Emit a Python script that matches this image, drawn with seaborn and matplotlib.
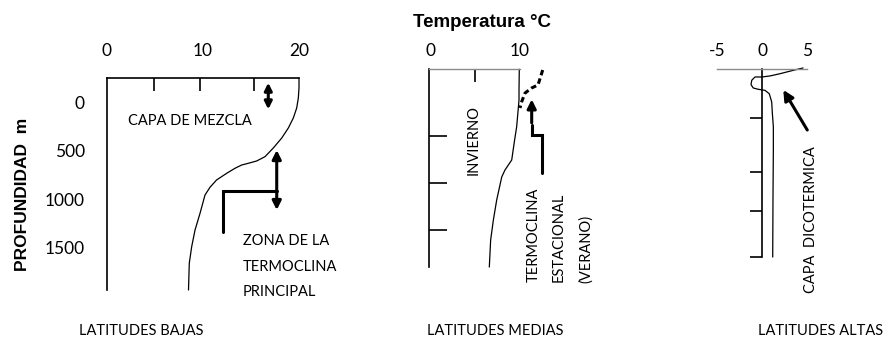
import matplotlib
matplotlib.use("Agg")
import matplotlib.pyplot as plt
import seaborn as sns

# ---------------- data ----------------
# Latitudes bajas: temperature (°C) vs depth (m)
low_T = [20.0, 20.0, 19.93, 19.76, 19.41, 18.89, 18.2, 17.32, 16.46, 15.59, 14.72, 14.03, 13.33,
         12.47, 11.41, 10.73, 10.21, 9.69, 9.17, 8.82, 8.57, 8.49]
low_d = [-260, -156, -52, 52, 156, 260, 365, 469, 559, 604, 628, 646, 680,
         732, 802, 878, 958, 1149, 1323, 1497, 1670, 1948]
# Latitudes medias: winter (solid) and summer (dashed)
mid_win_T = [9.92, 9.89, 9.89, 9.63, 9.4, 9.08, 8.33, 7.97, 7.41, 7.04, 6.74, 6.59]
mid_win_d = [-210, 11, 117, 401, 543, 755, 862, 936, 1181, 1394, 1606, 1894]
mid_sum_T = [12.52, 12.41, 12.0, 11.3, 10.56, 10.19, 10.0]
mid_sum_d = [-202, -167, -43, -11, 43, 135, 202]
# Latitudes altas
high_T = [4.56, 3.48, 2.0, 0.89, -0.03, -0.78, -1.14, -1.22, -0.97, -0.41, 0.33, 0.81, 1.08,
          1.14, 1.26, 1.26, 1.22, 1.19]
high_d = [-211, -186, -150, -126, -115, -115, -80, -33, 2, 16, 27, 63, 151,
          257, 414, 662, 1193, 1800]

low_xticklabels = [0, 10, 20]
low_yticklabels = [0, 500, 1000, 1500]
low_xmarks = [4.9, 9.7, 15.3]
low_ymarks = [500, 1000, 1500]
mid_xticklabels = [0, 10]
mid_xmarks = [5]
mid_ymarks = [500, 1000, 1500]
high_xticklabels = [-5, 0, 5]
high_xmarks = [-5, 5]
high_ymarks = [320, 900, 1310, 1800]

# annotation arrows (temperature, depth)
low_arrow1 = [(16.8, -211), (16.8, 66)]
low_arrow2 = [(17.68, 490), (17.68, 1115)]
low_bracket_T = [12.05, 12.05, 17.68]
low_bracket_d = [1341, 914, 914]
mid_arrow = [(11.3, 360), (11.3, 110)]
mid_bracket_T = [11.3, 11.3, 12.41, 12.41]
mid_bracket_d = [380, 489, 489, 894]
high_arrow = [(5.03, 449), (2.37, 23)]

# ---------------- figure ----------------
sns.set_theme(style="white")
plt.rcParams["font.family"] = ["Lato", "DejaVu Sans"]
plt.rcParams["axes.unicode_minus"] = False

W, H = 883, 339
fig = plt.figure(figsize=(W / 100, H / 100), dpi=100)
fig.patch.set_facecolor("white")


def P(px, py):
    return px / W, 1 - py / H


def make_axes(L, R, T, B, x0, sx, y0, sy):
    ax = fig.add_axes([L / W, 1 - B / H, (R - L) / W, (B - T) / H])
    ax.set_facecolor("none")
    ax.set_xlim((L - x0) / sx, (R - x0) / sx)
    ax.set_ylim((B - y0) / sy, (T - y0) / sy)
    for s in ["right", "bottom"]:
        ax.spines[s].set_visible(False)
    ax.xaxis.tick_top()
    ax.grid(False)
    return ax


LW = 0.9
TICKFONT = dict(family=["Lato", "DejaVu Sans"], size=12.5, color="black")

# ---------- panel 1 ----------
ax1 = make_axes(107, 299, 78, 290, 107, 9.6, 103, 0.096)
for s in ["top", "left"]:
    ax1.spines[s].set_color("black")
    ax1.spines[s].set_linewidth(1.2)
sns.lineplot(x=low_T, y=low_d, sort=False, estimator=None, ax=ax1, color="black", lw=LW)
ax1.set_xticks(low_xticklabels)
ax1.set_xticklabels([str(v) for v in low_xticklabels], **TICKFONT)
ax1.set_yticks(low_yticklabels)
ax1.set_yticklabels([str(v) for v in low_yticklabels], **TICKFONT)
ax1.tick_params(axis="x", which="major", length=0, pad=14)
ax1.tick_params(axis="y", which="major", length=0, pad=16)
ax1.set_xticks(low_xmarks, minor=True)
ax1.set_yticks(low_ymarks, minor=True)
ax1.tick_params(axis="x", which="minor", direction="in", length=9, width=1.2, color="black", top=True)
ax1.tick_params(axis="y", which="minor", direction="in", length=11, width=1.2, color="black", left=True)
ax1.set_xlabel("")
ax1.set_ylabel("")
for l in ax1.get_lines():
    l.set_clip_on(False)

ap2 = dict(arrowstyle="<|-|>", lw=2.2, color="black", mutation_scale=13, shrinkA=0, shrinkB=0)
ax1.annotate("", xy=low_arrow1[0], xytext=low_arrow1[1], arrowprops=dict(ap2, mutation_scale=11), annotation_clip=False)
ax1.annotate("", xy=low_arrow2[0], xytext=low_arrow2[1], arrowprops=ap2, annotation_clip=False)
ax1.plot(low_bracket_T, low_bracket_d, color="black", lw=2.2, solid_joinstyle="miter", clip_on=False)

# ---------- panel 2 ----------
ax2 = make_axes(429, 543, 69, 267, 430, 9.0, 89, 0.094)
ax2.spines["top"].set_color("#8a8a8a")
ax2.spines["top"].set_linewidth(1.0)
ax2.spines["top"].set_bounds(-0.111, 10.0)
ax2.spines["left"].set_color("black")
ax2.spines["left"].set_linewidth(1.2)
sns.lineplot(x=mid_win_T, y=mid_win_d, sort=False, estimator=None, ax=ax2, color="black", lw=LW)
sns.lineplot(x=mid_sum_T, y=mid_sum_d, sort=False, estimator=None, ax=ax2, color="black",
             lw=2.2, linestyle=(0, (1.8, 1.1)))
ax2.set_xticks(mid_xticklabels)
ax2.set_xticklabels([str(v) for v in mid_xticklabels], **TICKFONT)
ax2.set_yticks([])
ax2.tick_params(axis="x", which="major", length=0, pad=7)
ax2.set_xticks(mid_xmarks, minor=True)
ax2.set_yticks(mid_ymarks, minor=True)
ax2.tick_params(axis="x", which="minor", direction="in", length=9.5, width=1.2, color="black", top=True)
ax2.tick_params(axis="y", which="minor", direction="in", length=13, width=1.2, color="black", left=True)
ax2.set_xlabel("")
ax2.set_ylabel("")
for l in ax2.get_lines():
    l.set_clip_on(False)
ax2.plot(mid_bracket_T, mid_bracket_d, color="black", lw=2.2, solid_joinstyle="miter", clip_on=False)
ax2.annotate("", xy=mid_arrow[1], xytext=mid_arrow[0],
             arrowprops=dict(arrowstyle="-|>", lw=2.2, color="black", mutation_scale=13, shrinkA=0, shrinkB=0),
             annotation_clip=False)

# ---------- panel 3 ----------
ax3 = make_axes(717, 807, 69, 257, 762, 9.0, 87.8, 0.094)
ax3.spines["top"].set_color("#8a8a8a")
ax3.spines["top"].set_linewidth(1.0)
ax3.spines["left"].set_position(("data", 0))
ax3.spines["left"].set_color("black")
ax3.spines["left"].set_linewidth(1.2)
sns.lineplot(x=high_T, y=high_d, sort=False, estimator=None, ax=ax3, color="black", lw=LW)
ax3.set_xticks(high_xticklabels)
ax3.set_xticklabels([str(v) for v in high_xticklabels], **TICKFONT)
ax3.set_yticks(high_ymarks)
ax3.set_yticklabels([])
ax3.tick_params(axis="x", which="major", length=0, pad=7)
ax3.tick_params(axis="y", which="major", direction="out", length=8.5, width=1.2, color="black", left=True)
ax3.set_xticks(high_xmarks, minor=True)
ax3.tick_params(axis="x", which="minor", direction="in", length=9.5, width=1.2, color="#555555", top=True)
ax3.set_xlabel("")
ax3.set_ylabel("")
for l in ax3.get_lines():
    l.set_clip_on(False)
ax3.annotate("", xy=high_arrow[1], xytext=high_arrow[0],
             arrowprops=dict(arrowstyle="-|>", lw=2.2, color="black", mutation_scale=15, shrinkA=0, shrinkB=0),
             annotation_clip=False)

# ---------- texts ----------
LAB = dict(family=["Lato", "DejaVu Sans"], size=10.5, color="black")
BOLD = dict(family=["Liberation Sans", "DejaVu Sans"], weight="bold", color="black")

fig.text(*P(481.7, 27), "Temperatura °C", ha="center", va="baseline", size=13.5, **BOLD)
fig.text(*P(23, 194), "PROFUNDIDAD  m", ha="center", va="center", rotation=90, size=12.5, **BOLD)

fig.text(*P(128, 125), "CAPA DE MEZCLA", ha="left", va="baseline", **LAB)
fig.text(*P(243, 245), "ZONA DE LA", ha="left", va="baseline", **LAB)
fig.text(*P(243, 271), "TERMOCLINA", ha="left", va="baseline", **LAB)
fig.text(*P(243, 296), "PRINCIPAL", ha="left", va="baseline", **LAB)
fig.text(*P(141, 335), "LATITUDES BAJAS", ha="center", va="baseline", **LAB)

fig.text(*P(474, 140), "INVIERNO", ha="center", va="center", rotation=90, **LAB)
fig.text(*P(534, 282), "TERMOCLINA", ha="center", va="bottom", rotation=90, **LAB)
fig.text(*P(559, 282), "ESTACIONAL", ha="center", va="bottom", rotation=90, **LAB)
fig.text(*P(586, 283), "(VERANO)", ha="center", va="bottom", rotation=90, **LAB)
fig.text(*P(495, 335), "LATITUDES MEDIAS", ha="center", va="baseline", **LAB)

fig.text(*P(811, 293), "CAPA  DICOTERMICA", ha="center", va="bottom", rotation=90, **LAB)
fig.text(*P(821, 335), "LATITUDES ALTAS", ha="center", va="baseline", **LAB)

fig.savefig("out.png", dpi=100, facecolor="white")
